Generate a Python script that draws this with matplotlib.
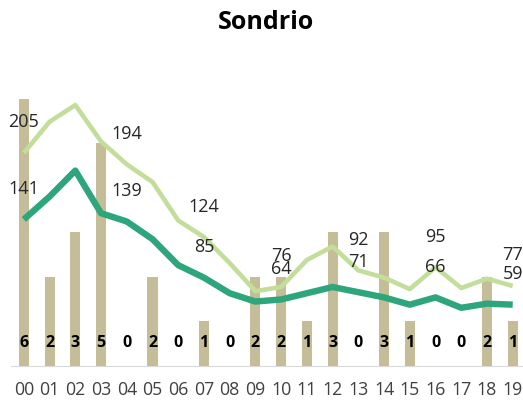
import matplotlib
matplotlib.use('Agg')
import matplotlib.pyplot as plt
import numpy as np

plt.rcParams['font.family'] = ['Open Sans', 'DejaVu Sans']

years = ['00', '01', '02', '03', '04', '05', '06', '07', '08', '09',
         '10', '11', '12', '13', '14', '15', '16', '17', '18', '19']
bars = [6, 2, 3, 5, 0, 2, 0, 1, 0, 2, 2, 1, 3, 0, 3, 1, 0, 0, 2, 1]
light = [205, 235, 251, 216, 194, 177, 140, 124, 99, 72,
         76, 102, 115, 92, 85, 74, 95, 75, 84, 77]
dark = [141, 163, 188, 147, 139, 122, 97, 85, 70, 62,
        64, 70, 76, 71, 66, 59, 66, 56, 60, 59]
label_idx = [0, 4, 7, 10, 13, 16, 19]

TAN = '#c4bd97'; LIGHT = '#c3de9b'; DARK = '#2ca67a'; TXT = '#262626'

fig = plt.figure(figsize=(5.23, 4.05), dpi=100)
ax = fig.add_axes([0.021, 0.0963, 0.979, 0.770])
x = np.arange(len(years))
ax.bar(x, bars, width=0.39, color=TAN, zorder=1)
for xi, b in zip(x, bars):
    ax.text(xi, 0.51, str(b), ha='center', va='center', fontsize=11.5,
            fontweight='bold', color='black')
ax.set_ylim(0, 7)
ax.set_xlim(-0.5, 19.4)
ax.set_yticks([])
for s in ['top', 'right', 'left']:
    ax.spines[s].set_visible(False)
ax.spines['bottom'].set_color('#d9d9d9')
ax.set_xticks(x)
ax.set_xticklabels(years, fontsize=12.8, color='#404040')
ax.tick_params(axis='x', length=0, pad=11)

ax2 = ax.twinx()
ax2.plot(x, light, color=LIGHT, lw=3.3, solid_capstyle='butt')
ax2.plot(x, dark, color=DARK, lw=4.6, solid_capstyle='butt')
for i in label_idx:
    ax2.annotate(str(light[i]), (x[i], light[i]), xytext=(0, 22), textcoords='offset points',
                 ha='center', va='center', fontsize=13, color=TXT)
    ax2.annotate(str(dark[i]), (x[i], dark[i]), xytext=(0, 22), textcoords='offset points',
                 ha='center', va='center', fontsize=13, color=TXT)
ax2.set_ylim(0, 300)
ax2.set_yticks([])
for s in ['top', 'right', 'left', 'bottom']:
    ax2.spines[s].set_visible(False)

fig.text(0.508, 0.945, 'Sondrio', ha='center', va='center', fontsize=18, fontweight='bold')
fig.savefig('out.png', dpi=100)
